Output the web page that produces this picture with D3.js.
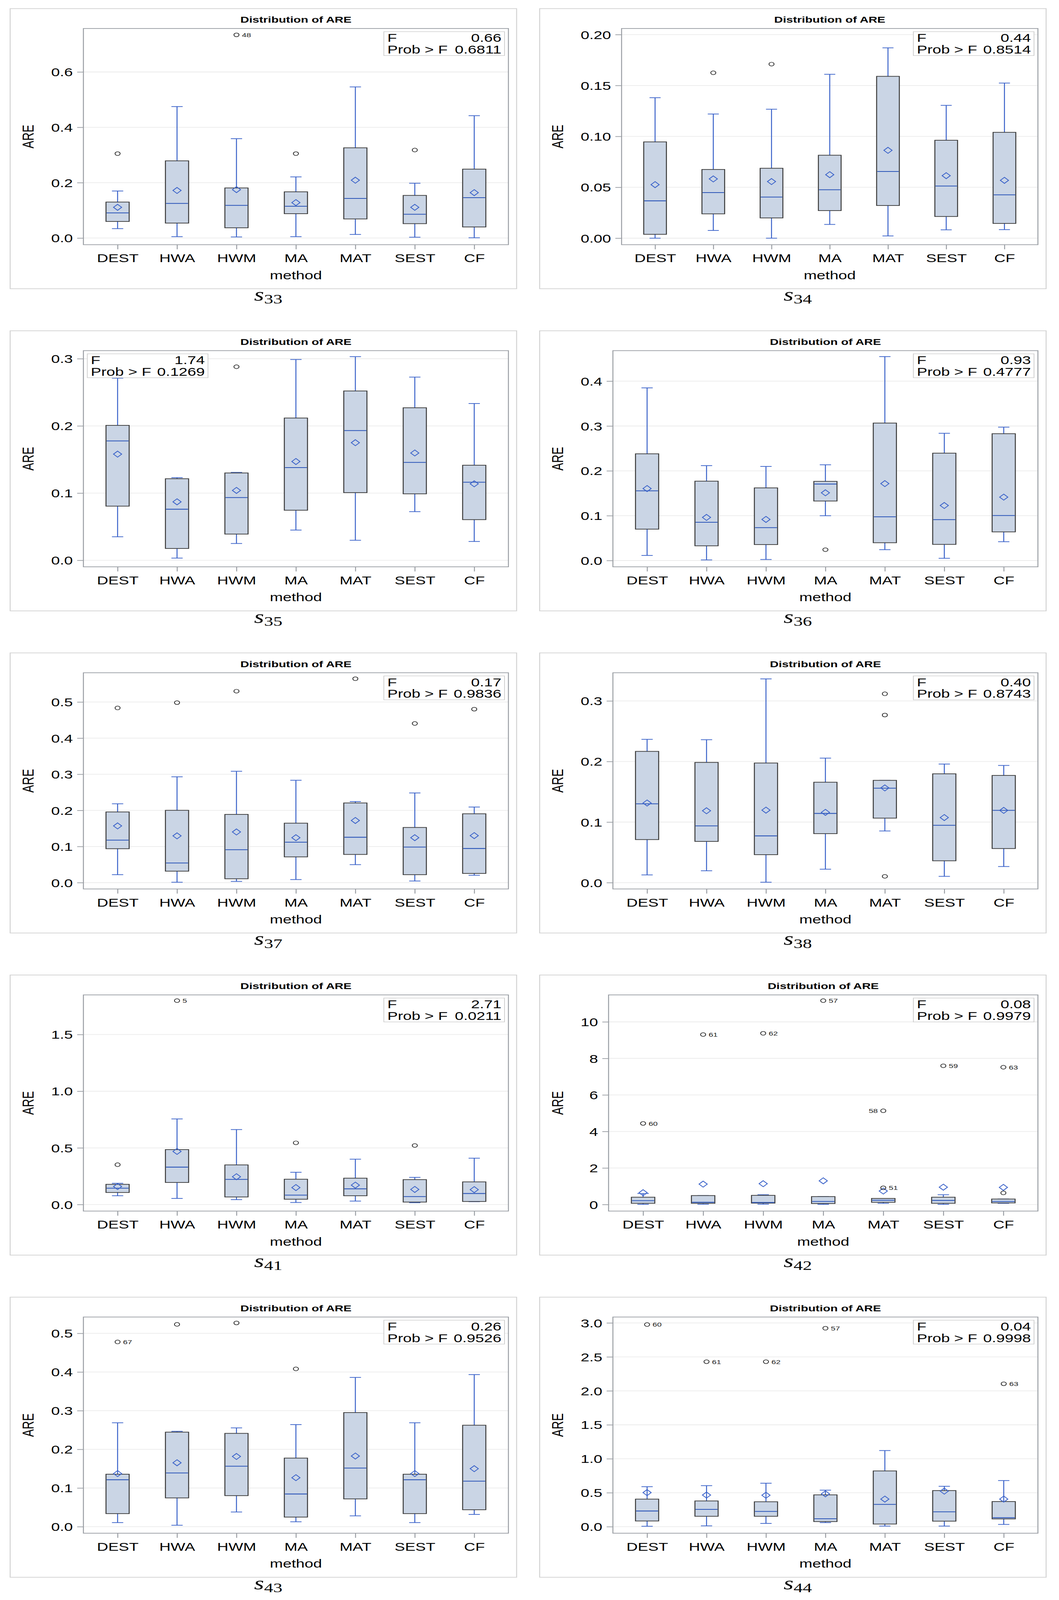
<!DOCTYPE html>
<html>
<head>
<meta charset="utf-8">
<script src="https://cdn.jsdelivr.net/npm/d3@7"></script>
<style>
  html, body { margin: 0; padding: 0; background: #ffffff; overflow: hidden; }
  svg { display: block; }
</style>
</head>
<body>
<svg id="chart"></svg>
<script>
// ---------------- DATA ----------------
const methods = ["DEST", "HWA", "HWM", "MA", "MAT", "SEST", "CF"];
const panelNames = ["33", "34", "35", "36", "37", "38", "41", "42", "43", "44"];

// per method: [lower whisker, Q1, median, Q3, upper whisker, mean]
const s33Stats = [[0.034,0.060,0.091,0.130,0.170,0.111],[0.005,0.054,0.125,0.279,0.475,0.172],[0.004,0.037,0.118,0.181,0.359,0.175],[0.005,0.088,0.115,0.167,0.221,0.128],[0.013,0.069,0.143,0.326,0.546,0.209],[0.003,0.052,0.086,0.154,0.198,0.111],[0.001,0.040,0.146,0.249,0.442,0.164]];
const s34Stats = [[0.000,0.0038,0.0367,0.0946,0.138,0.0526],[0.0076,0.0239,0.0448,0.0675,0.122,0.0582],[0.000,0.0199,0.0404,0.0687,0.1267,0.0556],[0.0135,0.0271,0.0476,0.0815,0.161,0.0624],[0.0022,0.0321,0.0655,0.159,0.187,0.0863],[0.0082,0.0213,0.0512,0.0962,0.1305,0.0614],[0.0084,0.0145,0.0426,0.104,0.1524,0.0568]];
const s35Stats = [[0.035,0.0806,0.1777,0.2008,0.271,0.158],[0.0033,0.0176,0.076,0.1214,0.123,0.087],[0.025,0.039,0.0934,0.130,0.1308,0.104],[0.045,0.0745,0.138,0.2117,0.2988,0.147],[0.0298,0.1007,0.193,0.252,0.303,0.175],[0.0724,0.0989,0.1457,0.227,0.2726,0.1597],[0.028,0.0605,0.1162,0.1415,0.2333,0.1138]];
const s36Stats = [[0.0114,0.070,0.1555,0.238,0.385,0.1605],[0.0014,0.0328,0.0853,0.177,0.2116,0.0962],[0.0023,0.0356,0.0734,0.162,0.2098,0.0917],[0.0999,0.1327,0.1706,0.1765,0.2135,0.151],[0.0242,0.0397,0.0976,0.3065,0.4547,0.1715],[0.005,0.036,0.0912,0.2394,0.2837,0.1227],[0.042,0.0639,0.1003,0.2828,0.2974,0.1414]];
const s37Stats = [[0.022,0.0939,0.1176,0.1957,0.2183,0.157],[0.0011,0.0317,0.0543,0.2002,0.293,0.1295],[0.0034,0.0107,0.0911,0.1889,0.3083,0.1403],[0.0085,0.0713,0.112,0.1646,0.2834,0.1244],[0.0498,0.078,0.1256,0.2206,0.2245,0.172],[0.0045,0.022,0.0984,0.1527,0.2483,0.1244],[0.0204,0.0255,0.0945,0.1906,0.2093,0.1301]];
const s38Stats = [[0.0128,0.0711,0.1301,0.2167,0.2366,0.1315],[0.0196,0.0681,0.0937,0.1985,0.236,0.1187],[0.0007,0.0462,0.0772,0.1975,0.3364,0.1197],[0.0222,0.0809,0.1143,0.1658,0.2056,0.116],[0.0853,0.1065,0.156,0.1689,0.1689,0.1564],[0.0104,0.0361,0.0947,0.1797,0.1958,0.1075],[0.0266,0.0563,0.1193,0.177,0.1935,0.1193]];
const s41Stats = [[0.0775,0.1064,0.1442,0.1785,0.1875,0.1586],[0.054,0.1947,0.330,0.485,0.7554,0.4687],[0.0433,0.0667,0.2217,0.3497,0.6616,0.2452],[0.018,0.0469,0.0829,0.2235,0.2848,0.1496],[0.0306,0.0775,0.1388,0.2326,0.4002,0.1713],[0.0162,0.0216,0.0703,0.220,0.2398,0.1334],[0.0252,0.027,0.0974,0.2001,0.4092,0.1316]];
const s42Stats = [[0.011,0.067,0.2125,0.403,0.604,0.649],[0.02,0.067,0.123,0.492,0.492,1.119],[0.02,0.078,0.112,0.503,0.537,1.141],[0.011,0.056,0.168,0.436,0.436,1.297],[0.067,0.123,0.235,0.336,0.336,0.738],[0.011,0.067,0.224,0.403,0.537,0.951],[0.067,0.089,0.168,0.302,0.302,0.94]];
const s43Stats = [[0.0106,0.0338,0.1214,0.1357,0.2687,0.1373],[0.0037,0.0744,0.1389,0.2445,0.2466,0.1653],[0.038,0.0803,0.1563,0.2413,0.2555,0.1816],[0.0127,0.0248,0.0845,0.1774,0.264,0.1267],[0.028,0.0718,0.1515,0.2951,0.386,0.1827],[0.0106,0.0338,0.1214,0.1357,0.2687,0.1373],[0.0317,0.0438,0.1177,0.2624,0.3933,0.150]];
const s44Stats = [[0.006,0.084,0.231,0.406,0.589,0.502],[0.012,0.153,0.255,0.379,0.604,0.466],[0.048,0.153,0.225,0.367,0.640,0.463],[0.060,0.075,0.117,0.469,0.538,0.484],[0.009,0.039,0.328,0.821,1.121,0.406],[0.009,0.081,0.219,0.532,0.595,0.523],[0.033,0.114,0.132,0.370,0.679,0.406]];

// outliers: [method, value, label, labelSide]
const s33Out = [["DEST",0.305,"",""],["HWM",0.734,"48","r"],["MA",0.305,"",""],["SEST",0.318,"",""]];
const s34Out = [["HWA",0.1625,"",""],["HWM",0.171,"",""]];
const s35Out = [["HWM",0.288,"",""]];
const s36Out = [["MA",0.0242,"",""]];
const s37Out = [["DEST",0.4836,"",""],["HWA",0.4983,"",""],["HWM",0.530,"",""],["MAT",0.5645,"",""],["SEST",0.4406,"",""],["CF",0.4802,"",""]];
const s38Out = [["MAT",0.3118,"",""],["MAT",0.2767,"",""],["MAT",0.0104,"",""]];
const s41Out = [["DEST",0.3515,"",""],["HWA",1.799,"5","r"],["MA",0.5444,"",""],["SEST",0.521,"",""]];
const s42Out = [["DEST",4.44,"60","r"],["HWA",9.306,"61","r"],["HWM",9.374,"62","r"],["MA",11.163,"57","r"],["MAT",0.917,"51","r"],["MAT",5.134,"58","l"],["SEST",7.595,"59","r"],["CF",0.638,"",""],["CF",7.517,"63","r"]];
const s43Out = [["DEST",0.4778,"67","r"],["HWA",0.5232,"",""],["HWM",0.5269,"",""],["MA",0.4081,"",""]];
const s44Out = [["DEST",2.976,"60","r"],["HWA",2.429,"61","r"],["HWM",2.429,"62","r"],["MA",2.922,"57","r"],["CF",2.104,"63","r"]];

// axis ranges (frame extent) and tick values
const yRanges = [[-0.024,0.757],[-0.0064,0.206],[-0.0097,0.312],[-0.014,0.468],[-0.0175,0.581],[-0.0104,0.3465],[-0.0577,1.8497],[-0.358,11.477],[-0.0169,0.5422],[-0.0962,3.087]];
const yTicks = [[0,0.2,0.4,0.6],[0,0.05,0.10,0.15,0.20],[0,0.1,0.2,0.3],[0,0.1,0.2,0.3,0.4],[0,0.1,0.2,0.3,0.4,0.5],[0,0.1,0.2,0.3],[0,0.5,1.0,1.5],[0,2,4,6,8,10],[0,0.1,0.2,0.3,0.4,0.5],[0,0.5,1.0,1.5,2.0,2.5,3.0]];
const yFormats = [".1f",".2f",".1f",".1f",".1f",".1f",".1f","d",".1f",".1f"];

// ANOVA inset values
const fValues = ["0.66","0.44","1.74","0.93","0.17","0.40","2.71","0.08","0.26","0.04"];
const pValues = ["0.6811","0.8514","0.1269","0.4777","0.9836","0.8743","0.0211","0.9979","0.9526","0.9998"];
const insetSide = ["r","r","l","r","r","r","r","r","r","r"];

const statsList = [s33Stats,s34Stats,s35Stats,s36Stats,s37Stats,s38Stats,s41Stats,s42Stats,s43Stats,s44Stats];
const outList = [s33Out,s34Out,s35Out,s36Out,s37Out,s38Out,s41Out,s42Out,s43Out,s44Out];

// ---------------- STYLE ----------------
const FONT = "'Liberation Sans', Arial, sans-serif";
const SERIF = "'Liberation Serif', 'DejaVu Serif', serif";
const COLW = 1356, ROWH = 1119, W = 2712, H = 5558;
const BOX_FILL = "#cad5e5", BOX_LINE = "#3a3a3a", BLUE = "#3a62c9", MED = "#2b55b8";

// The drawing is laid out on a 2712 x 5558 canvas; if the browser viewport is shorter,
// the whole canvas is fitted into it so nothing is cut off.
const viewH = Math.min(H, window.innerHeight || H);
const svg = d3.select("#chart")
  .attr("width", W).attr("height", viewH)
  .attr("viewBox", `0 0 ${W} ${H}`)
  .attr("preserveAspectRatio", "none");

// text measure helper
const measurer = svg.append("text").attr("font-family", FONT).attr("font-size", 40).attr("visibility", "hidden");
function textW(s) { measurer.text(s); return measurer.node().getComputedTextLength(); }

panelNames.forEach((name, i) => {
  const col = i % 2, row = Math.floor(i / 2);
  const g = svg.append("g").attr("transform", `translate(${col * COLW},${row * ROWH})`);
  const fmt = d3.format(yFormats[i]);
  const tickLabels = yTicks[i].map(fmt);
  const maxW = d3.max(tickLabels, textW);
  const fL = 131 + maxW + 27, fR = 1302, fT = 99, fB = 850;

  // outer border
  g.append("rect").attr("x", 26).attr("y", 30).attr("width", 1297).attr("height", 973)
    .attr("fill", "#fff").attr("stroke", "#d2d2d2").attr("stroke-width", 2.5);

  // title
  g.append("text").attr("x", (fL + fR) / 2).attr("y", 79).attr("text-anchor", "middle")
    .attr("font-family", FONT).attr("font-weight", "bold").attr("font-size", 31).attr("fill", "#000")
    .text("Distribution of ARE");

  const x = d3.scalePoint().domain(methods).range([fL, fR]).padding(0.575);
  const y = d3.scaleLinear().domain(yRanges[i]).range([fB, fT]);
  const step = x.step();
  const bw = step * 0.39, cw = step * 0.19;

  // grid lines
  g.append("g").selectAll("line").data(yTicks[i]).join("line")
    .attr("x1", fL).attr("x2", fR).attr("y1", d => y(d)).attr("y2", d => y(d))
    .attr("stroke", "#ebebeb").attr("stroke-width", 2.5);

  // y axis
  const yAxis = g.append("g").attr("transform", `translate(${fL},0)`)
    .call(d3.axisLeft(y).tickValues(yTicks[i]).tickFormat(fmt).tickSize(16).tickPadding(11));
  yAxis.select(".domain").remove();
  yAxis.selectAll(".tick line").attr("stroke", "#9a9ea4").attr("stroke-width", 2.5);
  yAxis.selectAll(".tick text").attr("font-family", FONT).attr("font-size", 40).attr("fill", "#000").attr("dy", "0.36em");

  // x axis
  const xAxis = g.append("g").attr("transform", `translate(0,${fB})`)
    .call(d3.axisBottom(x).tickSize(16).tickPadding(0));
  xAxis.select(".domain").remove();
  xAxis.selectAll(".tick line").attr("stroke", "#9a9ea4").attr("stroke-width", 2.5);
  xAxis.selectAll(".tick text").attr("font-family", FONT).attr("font-size", 40).attr("fill", "#000")
    .attr("y", 61).attr("dy", 0);

  // axis titles
  g.append("text").attr("x", (fL + fR) / 2).attr("y", 970).attr("text-anchor", "middle")
    .attr("font-family", FONT).attr("font-size", 40).attr("fill", "#000").text("method");
  g.append("text").attr("transform", `translate(86,${(fT + fB) / 2}) rotate(-90)`).attr("text-anchor", "middle")
    .attr("font-family", FONT).attr("font-size", 40).attr("fill", "#000").text("ARE");

  // boxes
  const rows = statsList[i].map((s, k) => ({ m: methods[k], wlo: s[0], q1: s[1], med: s[2], q3: s[3], whi: s[4], mean: s[5] }));
  const bx = g.append("g").selectAll("g.box").data(rows).join("g").attr("class", "box");
  bx.append("line").attr("x1", d => x(d.m)).attr("x2", d => x(d.m)).attr("y1", d => y(d.q3)).attr("y2", d => y(d.whi))
    .attr("stroke", BLUE).attr("stroke-width", 2.5);
  bx.append("line").attr("x1", d => x(d.m)).attr("x2", d => x(d.m)).attr("y1", d => y(d.q1)).attr("y2", d => y(d.wlo))
    .attr("stroke", BLUE).attr("stroke-width", 2.5);
  bx.append("line").attr("x1", d => x(d.m) - cw / 2).attr("x2", d => x(d.m) + cw / 2).attr("y1", d => y(d.whi)).attr("y2", d => y(d.whi))
    .attr("stroke", BLUE).attr("stroke-width", 2.5);
  bx.append("line").attr("x1", d => x(d.m) - cw / 2).attr("x2", d => x(d.m) + cw / 2).attr("y1", d => y(d.wlo)).attr("y2", d => y(d.wlo))
    .attr("stroke", BLUE).attr("stroke-width", 2.5);
  bx.append("rect").attr("x", d => x(d.m) - bw / 2).attr("width", bw)
    .attr("y", d => y(d.q3)).attr("height", d => Math.max(1, y(d.q1) - y(d.q3)))
    .attr("fill", BOX_FILL).attr("stroke", BOX_LINE).attr("stroke-width", 2.5);
  bx.append("line").attr("x1", d => x(d.m) - bw / 2 + 1.5).attr("x2", d => x(d.m) + bw / 2 - 1.5)
    .attr("y1", d => y(d.med)).attr("y2", d => y(d.med)).attr("stroke", MED).attr("stroke-width", 2.8);
  const ds = 10.5;
  bx.append("path").attr("d", d => {
      const cx = x(d.m), cy = y(d.mean);
      return `M${cx},${cy - ds}L${cx + ds},${cy}L${cx},${cy + ds}L${cx - ds},${cy}Z`;
    }).attr("fill", "none").attr("stroke", BLUE).attr("stroke-width", 2.4);

  // outliers
  const og = g.append("g");
  og.selectAll("circle").data(outList[i]).join("circle")
    .attr("cx", d => x(d[0])).attr("cy", d => y(d[1])).attr("r", 6.5)
    .attr("fill", "none").attr("stroke", "#222").attr("stroke-width", 2);
  og.selectAll("text").data(outList[i].filter(d => d[2] !== "")).join("text")
    .attr("x", d => d[3] === "l" ? x(d[0]) - 14 : x(d[0]) + 14)
    .attr("y", d => y(d[1])).attr("dy", "0.36em")
    .attr("text-anchor", d => d[3] === "l" ? "end" : "start")
    .attr("font-family", FONT).attr("font-size", 21).attr("fill", "#222").text(d => d[2]);

  // frame
  g.append("rect").attr("x", fL).attr("y", fT).attr("width", fR - fL).attr("height", fB - fT)
    .attr("fill", "none").attr("stroke", "#9a9ea4").attr("stroke-width", 2.5);

  // inset
  const iw = 309, ih = 83;
  const ix = insetSide[i] === "r" ? fR - 10 - iw : fL + 10, iy = fT + 11;
  const ig = g.append("g");
  ig.append("rect").attr("x", ix).attr("y", iy).attr("width", iw).attr("height", ih)
    .attr("fill", "#fff").attr("stroke", "#cfcfcf").attr("stroke-width", 2);
  const lines = [["F", fValues[i]], ["Prob > F", pValues[i]]];
  lines.forEach((ln, k) => {
    ig.append("text").attr("x", ix + 9).attr("y", iy + 35.5 + k * 40.5)
      .attr("font-family", FONT).attr("font-size", 40).attr("fill", "#000").text(ln[0]);
    ig.append("text").attr("x", ix + iw - 8).attr("y", iy + 35.5 + k * 40.5).attr("text-anchor", "end")
      .attr("font-family", FONT).attr("font-size", 40).attr("fill", "#000").text(ln[1]);
  });

  // caption s_xx
  const cap = g.append("text").attr("x", 687).attr("y", 1045).attr("text-anchor", "middle")
    .attr("font-family", SERIF).attr("fill", "#000");
  cap.append("tspan").attr("font-style", "italic").attr("font-size", 65).text("s");
  cap.append("tspan").attr("font-size", 47).attr("dy", 10).text(name);
});
measurer.remove();
</script>
</body>
</html>
